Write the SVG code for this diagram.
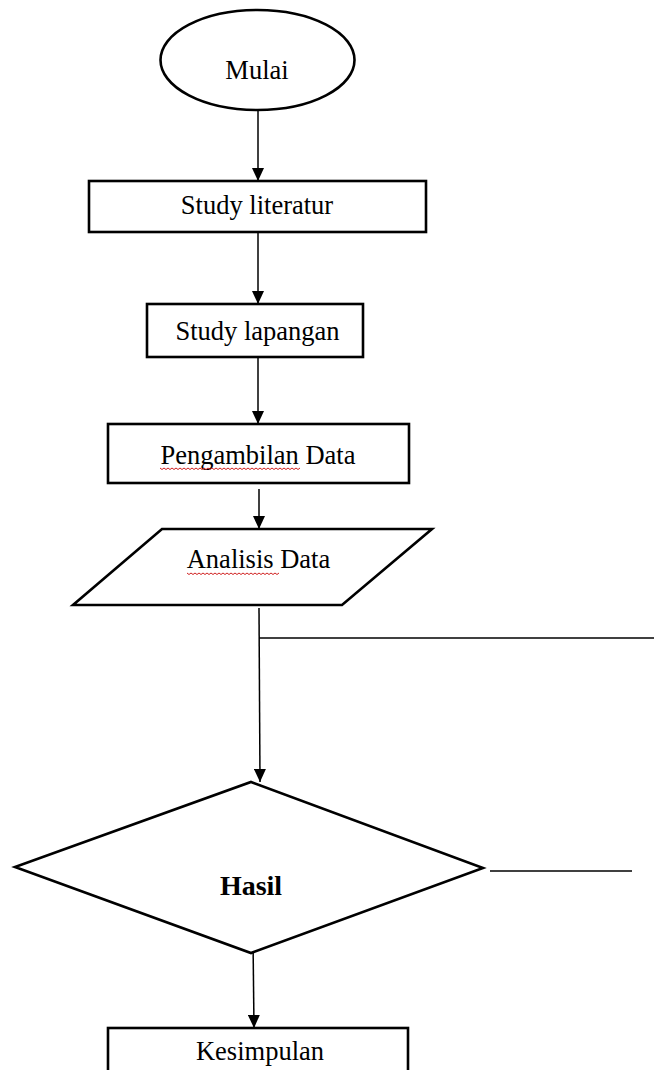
<svg xmlns="http://www.w3.org/2000/svg" width="654" height="1070" viewBox="0 0 654 1070">
<style>
.shape{fill:#fff;stroke:#000;stroke-width:2.6}
.conn{fill:none;stroke:#000;stroke-width:1.5}
.lbl{font-family:"Liberation Serif","Times New Roman",serif;font-size:26.5px;fill:#000;text-anchor:middle}
.bold{font-weight:bold;font-size:28px}
.squig{fill:none;stroke:#d02020;stroke-width:1}
</style>
<defs>
<marker id="arrd" markerUnits="userSpaceOnUse" markerWidth="14" markerHeight="12" refX="13" refY="6" orient="auto" viewBox="0 0 14 12">
<path d="M0,0 L13,6 L0,12 Z" fill="#000"/>
</marker>
</defs>
<rect width="654" height="1070" fill="#fff"/>
<g id="connectors">
<line class="conn" x1="258" y1="110" x2="258" y2="181" marker-end="url(#arrd)"/>
<line class="conn" x1="258" y1="232" x2="258" y2="304" marker-end="url(#arrd)"/>
<line class="conn" x1="258" y1="357" x2="258" y2="424" marker-end="url(#arrd)"/>
<line class="conn" x1="259" y1="489" x2="259" y2="529" marker-end="url(#arrd)"/>
<line class="conn" x1="259" y1="608" x2="260" y2="782" marker-end="url(#arrd)"/>
<line class="conn" x1="259" y1="638" x2="654" y2="638"/>
<line class="conn" x1="490" y1="871" x2="632" y2="871"/>
<line class="conn" x1="253" y1="938" x2="254" y2="1028" marker-end="url(#arrd)"/>
</g>
<g id="mulai">
<ellipse class="shape" cx="257.5" cy="60" rx="97" ry="50"/>
<text class="lbl" x="257" y="79">Mulai</text>
</g>
<g id="study-literatur">
<rect class="shape" x="89" y="181" width="337" height="51"/>
<text class="lbl" x="257" y="214">Study literatur</text>
</g>
<g id="study-lapangan">
<rect class="shape" x="147" y="304" width="216" height="53"/>
<text class="lbl" x="257.5" y="340">Study lapangan</text>
</g>
<g id="pengambilan-data">
<rect class="shape" x="108" y="424" width="301" height="59"/>
<text class="lbl" x="258" y="464">Pengambilan Data</text>
<path class="squig" d="M160,468 l2,1.5 l2,-1.5 l2,1.5 l2,-1.5 l2,1.5 l2,-1.5 l2,1.5 l2,-1.5 l2,1.5 l2,-1.5 l2,1.5 l2,-1.5 l2,1.5 l2,-1.5 l2,1.5 l2,-1.5 l2,1.5 l2,-1.5 l2,1.5 l2,-1.5 l2,1.5 l2,-1.5 l2,1.5 l2,-1.5 l2,1.5 l2,-1.5 l2,1.5 l2,-1.5 l2,1.5 l2,-1.5 l2,1.5 l2,-1.5 l2,1.5 l2,-1.5 l2,1.5 l2,-1.5 l2,1.5 l2,-1.5 l2,1.5 l2,-1.5 l2,1.5 l2,-1.5 l2,1.5 l2,-1.5 l2,1.5 l2,-1.5 l2,1.5 l2,-1.5 l2,1.5 l2,-1.5 l2,1.5 l2,-1.5 l2,1.5 l2,-1.5 l2,1.5 l2,-1.5 l2,1.5 l2,-1.5 l2,1.5 l2,-1.5 l2,1.5 l2,-1.5 l2,1.5 l2,-1.5 l2,1.5 l2,-1.5 l2,1.5 l2,-1.5 l2,1.5 l2,-1.5"/>
</g>
<g id="analisis-data">
<polygon class="shape" points="162,529 432,529 342,605 73,605"/>
<text class="lbl" x="258.5" y="568">Analisis Data</text>
<path class="squig" d="M187,573 l2,1.5 l2,-1.5 l2,1.5 l2,-1.5 l2,1.5 l2,-1.5 l2,1.5 l2,-1.5 l2,1.5 l2,-1.5 l2,1.5 l2,-1.5 l2,1.5 l2,-1.5 l2,1.5 l2,-1.5 l2,1.5 l2,-1.5 l2,1.5 l2,-1.5 l2,1.5 l2,-1.5 l2,1.5 l2,-1.5 l2,1.5 l2,-1.5 l2,1.5 l2,-1.5 l2,1.5 l2,-1.5 l2,1.5 l2,-1.5 l2,1.5 l2,-1.5 l2,1.5 l2,-1.5 l2,1.5 l2,-1.5 l2,1.5 l2,-1.5 l2,1.5 l2,-1.5 l2,1.5 l2,-1.5 l2,1.5 l2,-1.5"/>
</g>
<g id="hasil">
<polygon class="shape" points="251,782 483,868 251,953 15,867"/>
<text class="lbl bold" x="251" y="895">Hasil</text>
</g>
<g id="kesimpulan">
<rect class="shape" x="108" y="1028" width="300" height="60"/>
<text class="lbl" x="260" y="1060">Kesimpulan</text>
</g>
</svg>
